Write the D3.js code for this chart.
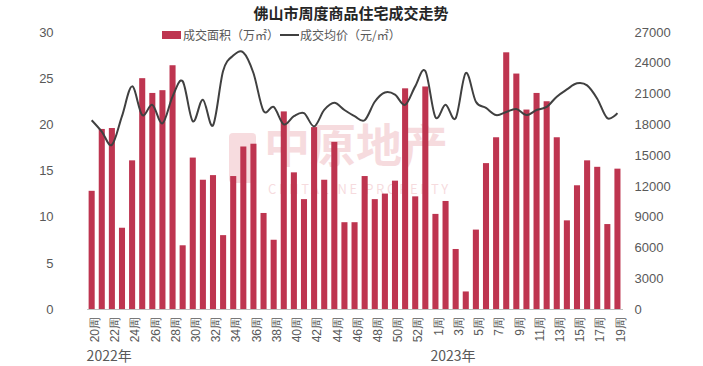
<!DOCTYPE html>
<html><head><meta charset="utf-8">
<script src="https://cdn.jsdelivr.net/npm/d3@7"></script>
<style>
html,body{margin:0;padding:0;background:#fff;}
svg{display:block;font-family:"Noto Sans CJK SC","Noto Sans",sans-serif;}
</style></head>
<body><svg id="c" width="703" height="366"></svg>
<script>
const weeks = ["20周","21周","22周","23周","24周","25周","26周","27周","28周","29周","30周","31周","32周","33周","34周","35周","36周","37周","38周","39周","40周","41周","42周","43周","44周","45周","46周","47周","48周","49周","50周","51周","52周","53周","1周","2周","3周","4周","5周","6周","7周","8周","9周","10周","11周","12周","13周","14周","15周","16周","17周","18周","19周"];
const area = [12.8,19.5,19.6,8.8,16.1,25.0,23.4,23.7,26.4,6.9,16.4,14.0,14.5,8.0,14.4,17.6,17.9,10.4,7.5,21.4,14.8,11.9,19.7,14.0,18.1,9.4,9.4,14.4,11.9,12.5,13.9,23.9,12.2,24.1,10.3,11.7,6.5,1.9,8.6,15.8,18.6,27.8,25.5,21.6,23.4,22.5,18.6,9.6,13.4,16.1,15.4,9.2,15.2];
const price = [18400,17300,16000,18800,21700,18900,19900,18100,20700,22200,18300,20400,17900,23200,24700,25000,23000,19300,19700,18000,18800,19100,17800,19400,20100,19400,18800,18400,20200,21100,20900,19900,21700,23200,18700,19900,18600,23000,20200,19600,18900,19200,19500,18900,19400,19700,20700,21400,22000,21800,20500,18600,19100];
const leftTicks = [0,5,10,15,20,25,30];
const rightTicks = [0,3000,6000,9000,12000,15000,18000,21000,24000,27000];
const years = [{label:"2022年", at:"20周"},{label:"2023年", at:"1周"}];
const title = "佛山市周度商品住宅成交走势";
const legendBar = "成交面积（万㎡）";
const legendLine = "成交均价（元/㎡）";

const svg = d3.select("#c");
const pLeft = 86.6, pRight = 622.5, pTop = 32, pBottom = 309;
const x = d3.scaleBand().domain(weeks).range([pLeft, pRight]).paddingInner(0.4).paddingOuter(0.2);
const yL = d3.scaleLinear().domain([0,30]).range([pBottom, pTop]);
const yR = d3.scaleLinear().domain([0,27000]).range([pBottom, pTop]);
const barColor = "#be3550", lineColor = "#404040", txt = "#595959";

// watermark
const wm = svg.append("g").attr("opacity",0.17).attr("fill","#d0303f");
wm.append("rect").attr("x",229).attr("y",133).attr("width",27).attr("height",50).attr("rx",4);
wm.append("text").attr("x",264).attr("y",162).attr("font-size",46).attr("font-weight","bold").text("中原地产");
wm.append("text").attr("x",268).attr("y",194).attr("font-size",13).attr("letter-spacing",2.6).text("CENTALINE PROPERTY");

// bars
svg.append("g").selectAll("rect").data(weeks).join("rect")
  .attr("x", d => x(d)).attr("width", x.bandwidth())
  .attr("y", (d,i) => yL(area[i])).attr("height", (d,i) => pBottom - yL(area[i]))
  .attr("fill", barColor);

// x axis
const xAxis = d3.axisBottom(x).tickSize(0).tickFormat((d,i)=> i%2===0 ? d : "");
const gx = svg.append("g").attr("transform",`translate(0,${pBottom})`).call(xAxis);
gx.select(".domain").attr("stroke","#bfbfbf").attr("stroke-width",1);
gx.selectAll("text").attr("fill",txt).attr("font-size",12)
  .attr("text-anchor","end").attr("dy","0.35em")
  .attr("transform","translate(3,8) rotate(-90)").attr("x",0).attr("y",0);

// left axis
const gl = svg.append("g").attr("transform",`translate(${pLeft-33},0)`)
  .call(d3.axisLeft(yL).tickValues(leftTicks).tickSize(0).tickPadding(0));
gl.select(".domain").remove();
gl.selectAll("text").attr("fill",txt).attr("font-size",13);

// right axis
const gr = svg.append("g").attr("transform",`translate(${pRight+12},0)`)
  .call(d3.axisRight(yR).tickValues(rightTicks).tickSize(0).tickPadding(0).tickFormat(d3.format("d")));
gr.select(".domain").remove();
gr.selectAll("text").attr("fill",txt).attr("font-size",13);

// line
const line = d3.line().x((d,i)=> x(weeks[i]) + x.bandwidth()/2).y(d => yR(d)).curve(d3.curveCardinal.tension(0));
svg.append("path").datum(price).attr("d", line).attr("fill","none").attr("stroke",lineColor).attr("stroke-width",2);

// year labels
svg.append("g").selectAll("text").data(years).join("text")
  .attr("x", d => x(d.at) - 2).attr("y", 361).attr("fill",txt).attr("font-size",14).text(d => d.label);

// title
svg.append("text").attr("x",351).attr("y",19).attr("text-anchor","middle").attr("font-size",15).attr("font-weight","bold").attr("fill","#262626").text(title);

// legend
svg.append("rect").attr("x",162).attr("y",31).attr("width",19).attr("height",8).attr("fill",barColor);
svg.append("text").attr("x",183).attr("y",40).attr("font-size",12).attr("fill",txt).text(legendBar);
svg.append("line").attr("x1",280).attr("x2",299).attr("y1",35).attr("y2",35).attr("stroke",lineColor).attr("stroke-width",2);
svg.append("text").attr("x",300).attr("y",40).attr("font-size",12).attr("fill",txt).text(legendLine);
</script></body></html>
